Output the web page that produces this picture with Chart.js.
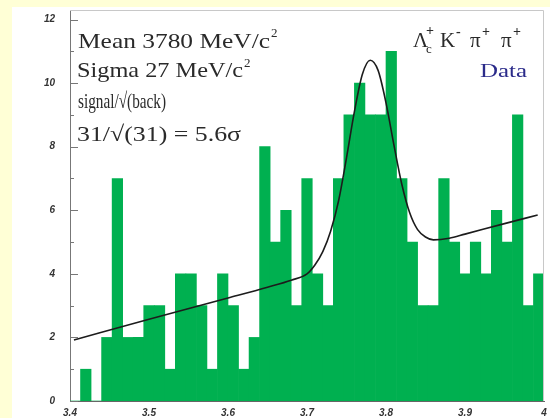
<!DOCTYPE html>
<html>
<head>
<meta charset="utf-8">
<script src="https://cdn.jsdelivr.net/npm/chart.js@4.4.1/dist/chart.umd.min.js"></script>
<style>
  html, body { margin: 0; padding: 0; background: #ffffd6; }
  #wrap { position: absolute; left: 0; top: 0; width: 550px; height: 418px; }
</style>
</head>
<body>
<div id="wrap"><canvas id="c" width="550" height="418"></canvas></div>
<script>
// ---- data ----
const binCenters = [
  3.40667, 3.42000, 3.43333, 3.44667, 3.46000, 3.47333, 3.48667, 3.50000, 3.51333,
  3.52667, 3.54000, 3.55333, 3.56667, 3.58000, 3.59333, 3.60667, 3.62000, 3.63333,
  3.64667, 3.66000, 3.67333, 3.68667, 3.70000, 3.71333, 3.72667, 3.74000, 3.75333,
  3.76667, 3.78000, 3.79333, 3.80667, 3.82000, 3.83333, 3.84667, 3.86000, 3.87333,
  3.88667, 3.90000, 3.91333, 3.92667, 3.94000, 3.95333, 3.96667, 3.98000, 3.99333
];
const counts = [
  0, 1, 0, 2, 7, 2, 2, 3, 3,
  1, 4, 4, 3, 1, 4, 3, 1, 2,
  8, 5, 6, 3, 7, 4, 3, 7, 9,
  10, 9, 9, 11, 7, 5, 3, 3, 7,
  5, 4, 5, 4, 6, 5, 9, 3, 4
];
const fitX = [3.405, 3.50, 3.60, 3.65, 3.68, 3.70, 3.71, 3.72, 3.73, 3.74, 3.75, 3.76, 3.77,
              3.78, 3.79, 3.80, 3.81, 3.82, 3.83, 3.84, 3.85, 3.86, 3.88, 3.90, 3.95, 3.992];
const fitY = [1.92, 2.57, 3.24, 3.58, 3.80, 4.00, 4.28, 4.70, 5.35, 6.30, 7.65, 9.10, 10.27,
              10.72, 10.40, 9.38, 8.06, 6.82, 5.92, 5.39, 5.16, 5.07, 5.12, 5.25, 5.58, 5.85];
const xTickLabels = ["3.4", "3.5", "3.6", "3.7", "3.8", "3.9", "4"];
const yTickLabels = ["0", "2", "4", "6", "8", "10", "12"];
const infoLines = ["Mean 3780 MeV/c", "Sigma 27 MeV/c", "signal/\u221A(back)", "31/\u221A(31) = 5.6\u03C3"];
const legendLabel = "Data";

// ---- helpers ----
function fitText(ctx, text, x, y, font, width, color) {
  ctx.save();
  ctx.font = font;
  ctx.fillStyle = color;
  ctx.textBaseline = 'alphabetic';
  ctx.textAlign = 'left';
  const w = ctx.measureText(text).width;
  ctx.translate(x, y);
  if (width) ctx.scale(width / w, 1);
  ctx.fillText(text, 0, 0);
  ctx.restore();
}
function plainText(ctx, text, x, y, font, color) {
  ctx.save();
  ctx.font = font;
  ctx.fillStyle = color;
  ctx.textBaseline = 'alphabetic';
  ctx.textAlign = 'left';
  ctx.fillText(text, x, y);
  ctx.restore();
}

const bgPlugin = {
  id: 'bg',
  beforeDraw(chart) {
    const ctx = chart.ctx;
    ctx.save();
    ctx.fillStyle = '#ffffd6';
    ctx.fillRect(0, 0, chart.width, chart.height);
    ctx.fillStyle = '#ffffff';
    ctx.fillRect(12, 7, chart.width - 12, chart.height - 7);
    ctx.restore();
  }
};

const ticksPlugin = {
  id: 'innerTicks',
  beforeDatasetsDraw(chart) {
    const ctx = chart.ctx;
    const ys = chart.scales.y;
    const left = chart.chartArea.left;
    ctx.save();
    ctx.strokeStyle = '#777';
    ctx.lineWidth = 1;
    for (let v = 0; v <= 12; v += 1) {
      const py = Math.round(ys.getPixelForValue(v)) + 0.5;
      const len = (v % 2 === 0) ? 8 : 4;
      ctx.beginPath();
      ctx.moveTo(left, py);
      ctx.lineTo(left + len, py);
      ctx.stroke();
    }
    ctx.restore();
  }
};

const framePlugin = {
  id: 'frame',
  afterDraw(chart) {
    const ctx = chart.ctx;
    const a = chart.chartArea;
    ctx.save();
    ctx.strokeStyle = '#c8c8c8';
    ctx.lineWidth = 1;
    ctx.beginPath();
    ctx.moveTo(a.left, a.top + 0.5);
    ctx.lineTo(a.right - 0.5, a.top + 0.5);
    ctx.lineTo(a.right - 0.5, a.bottom);
    ctx.stroke();
    ctx.restore();

    // info text block (serif)
    const serif = '"Liberation Serif", "DejaVu Serif", serif';
    const col = '#2a2a2a';
    fitText(ctx, infoLines[0], 78, 48, '22px ' + serif, 192, col);
    plainText(ctx, '2', 271, 37, '13px ' + serif, col);
    fitText(ctx, infoLines[1], 77, 77, '22px ' + serif, 166, col);
    plainText(ctx, '2', 244, 67, '13px ' + serif, col);
    fitText(ctx, infoLines[2], 78, 108, '22px ' + serif, 88, col);
    fitText(ctx, infoLines[3], 77, 141, '22px ' + serif, 164, col);

    // decay channel label
    const f = '21px ' + serif;
    const fs = 'bold 14px ' + serif;
    plainText(ctx, '\u039B', 413, 47, f, col);
    plainText(ctx, 'c', 426, 53, '13px ' + serif, col);
    plainText(ctx, '+', 426, 35, fs, col);
    plainText(ctx, 'K', 440, 47, f, col);
    plainText(ctx, '-', 456, 36, fs, col);
    plainText(ctx, '\u03C0', 470, 47, f, col);
    plainText(ctx, '+', 482, 36, fs, col);
    plainText(ctx, '\u03C0', 501, 47, f, col);
    plainText(ctx, '+', 513, 36, fs, col);

    fitText(ctx, legendLabel, 480, 77, '18px ' + serif, 47, '#2b2b8a');
  }
};

const tickFont = { family: '"Liberation Sans", Arial, sans-serif', size: 10, weight: 'bold', style: 'italic' };

new Chart(document.getElementById('c'), {
  type: 'bar',
  data: {
    datasets: [
      {
        type: 'line',
        data: fitX.map((x, i) => ({ x: x, y: fitY[i] })),
        borderColor: '#1c1c1c',
        borderWidth: 1.6,
        pointRadius: 0,
        tension: 0.4,
        cubicInterpolationMode: 'monotone',
        fill: false,
        order: 1
      },
      {
        type: 'bar',
        data: binCenters.map((x, i) => ({ x: x, y: counts[i] })),
        backgroundColor: '#00b050',
        borderWidth: 0,
        barPercentage: 1.0,
        categoryPercentage: 1.0,
        order: 2
      }
    ]
  },
  options: {
    responsive: false,
    animation: false,
    layout: { padding: { left: 0, right: 6, top: 10, bottom: 0 } },
    plugins: { legend: { display: false }, tooltip: { enabled: false } },
    scales: {
      x: {
        type: 'linear',
        offset: false,
        min: 3.4,
        max: 4.0,
        grid: { display: false, drawTicks: false, offset: false },
        border: { display: true, color: '#666', width: 1 },
        afterFit(scale) { scale.height = 17; scale.paddingLeft = 0; scale.paddingRight = 0; },
        ticks: {
          stepSize: 0.1,
          padding: 6,
          color: '#333',
          font: tickFont,
          maxRotation: 0,
          autoSkip: false,
          callback: (v, i) => xTickLabels[i]
        }
      },
      y: {
        type: 'linear',
        min: 0,
        max: 12.3,
        grid: { display: false, drawTicks: false },
        border: { display: true, color: '#777', width: 1 },
        afterFit(scale) { scale.width = 70; scale.paddingTop = 0; scale.paddingBottom = 0; },
        ticks: {
          stepSize: 2,
          includeBounds: false,
          padding: 15,
          color: '#333',
          font: tickFont,
          callback: (v, i) => yTickLabels[i]
        }
      }
    }
  },
  plugins: [bgPlugin, ticksPlugin, framePlugin]
});
</script>
</body>
</html>
